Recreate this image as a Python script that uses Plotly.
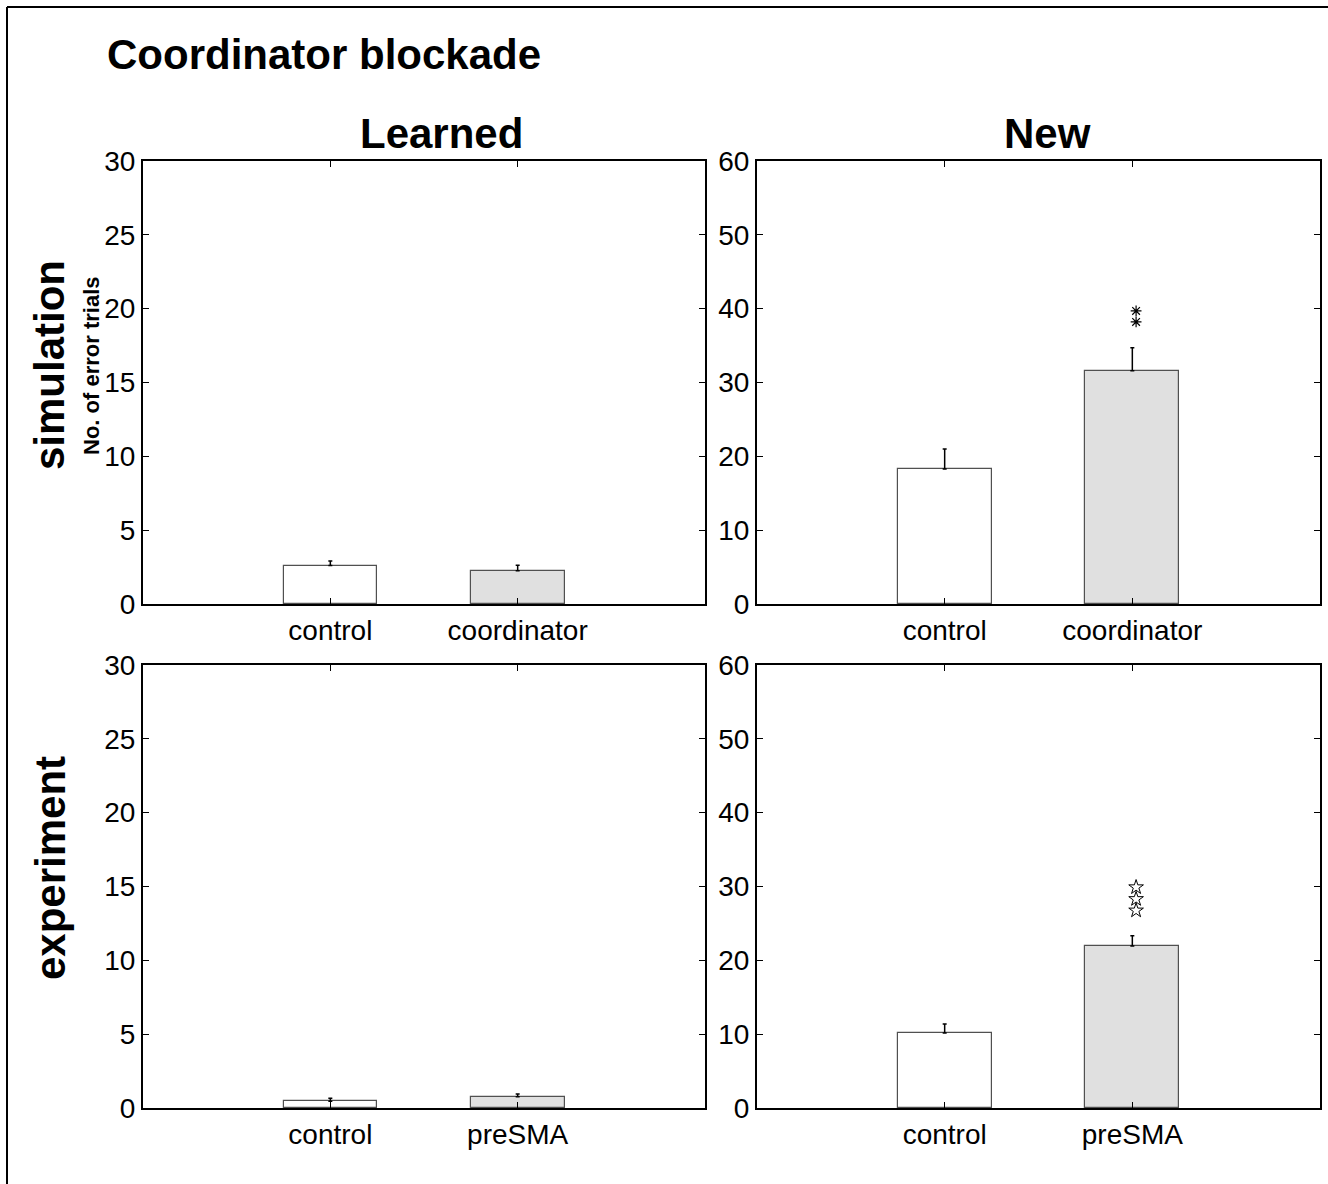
import plotly.graph_objects as go

# ---- data ----
sim_learned_labels = ["control", "coordinator"]
sim_learned_vals = [2.6, 2.25]
sim_learned_err = [0.32, 0.37]

sim_new_labels = ["control", "coordinator"]
sim_new_vals = [18.3, 31.6]
sim_new_err = [2.7, 3.1]

exp_learned_labels = ["control", "preSMA"]
exp_learned_vals = [0.45, 0.77]
exp_learned_err = [0.21, 0.18]

exp_new_labels = ["control", "preSMA"]
exp_new_vals = [10.16, 21.94]
exp_new_err = [1.22, 1.4]

sim_sig_y = [39.7, 38.2]            # asterisks (simulation, New)
exp_sig_y = [29.9, 28.3, 26.75]     # open stars (experiment, New)

learned_ticks = [0, 5, 10, 15, 20, 25, 30]
new_ticks = [0, 10, 20, 30, 40, 50, 60]

bar_colors = ["#ffffff", "#e0e0e0"]
FONT = "Liberation Sans, Arial, Helvetica, sans-serif"

W, H = 1328, 1184
def px_x(p):
    return p / W
def px_y(p):
    return 1 - p / H

fig = go.Figure()

panels = [
    ("x", "y", sim_learned_labels, sim_learned_vals, sim_learned_err, learned_ticks),
    ("x2", "y2", sim_new_labels, sim_new_vals, sim_new_err, new_ticks),
    ("x3", "y3", exp_learned_labels, exp_learned_vals, exp_learned_err, learned_ticks),
    ("x4", "y4", exp_new_labels, exp_new_vals, exp_new_err, new_ticks),
]

for xa, ya, labels, vals, errs, ticks in panels:
    fig.add_trace(go.Bar(
        x=[1, 2], y=vals, width=0.5,
        marker=dict(color=bar_colors, line=dict(color="#505050", width=1.2)),
        error_y=dict(type="data", symmetric=False, array=errs, arrayminus=[0, 0],
                     color="black", thickness=1.5, width=2),
        xaxis=xa, yaxis=ya, showlegend=False, hoverinfo="skip",
    ))

fig.add_trace(go.Scatter(
    x=[2.02] * len(sim_sig_y), y=sim_sig_y, mode="markers",
    marker=dict(symbol="asterisk-open", size=9, color="black", line=dict(color="black", width=1.2)),
    xaxis="x2", yaxis="y2", showlegend=False, hoverinfo="skip"))
fig.add_trace(go.Scatter(
    x=[2.02] * len(exp_sig_y), y=exp_sig_y, mode="markers",
    marker=dict(symbol="star-open", size=11, color="black", line=dict(color="black", width=1)),
    xaxis="x4", yaxis="y4", showlegend=False, hoverinfo="skip"))

xdom_l = [px_x(143), px_x(705)]
xdom_r = [px_x(757), px_x(1320)]
ydom_t = [px_y(604), px_y(161)]
ydom_b = [px_y(1108), px_y(665)]

def xaxis_cfg(dom, anchor, labels):
    return dict(domain=dom, anchor=anchor, range=[0, 3], tickvals=[1, 2], ticktext=labels,
                showline=True, linecolor="black", linewidth=2, mirror="ticks",
                ticks="inside", ticklen=6, tickwidth=1, tickcolor="black",
                showgrid=False, zeroline=False, fixedrange=True, automargin=False,
                tickfont=dict(family=FONT, size=28, color="black"))

def yaxis_cfg(dom, anchor, ticks):
    return dict(domain=dom, anchor=anchor, range=[0, ticks[-1]], tickvals=ticks,
                showline=True, linecolor="black", linewidth=2, mirror="ticks",
                ticks="inside", ticklen=6, tickwidth=1, tickcolor="black",
                showgrid=False, zeroline=False, fixedrange=True, automargin=False,
                tickfont=dict(family=FONT, size=28, color="black"))

fig.update_layout(
    template="none",
    width=W, height=H,
    margin=dict(l=0, r=0, t=0, b=0, pad=0),
    paper_bgcolor="white", plot_bgcolor="white",
    bargap=0,
    xaxis=xaxis_cfg(xdom_l, "y", sim_learned_labels),
    yaxis=yaxis_cfg(ydom_t, "x", learned_ticks),
    xaxis2=xaxis_cfg(xdom_r, "y2", sim_new_labels),
    yaxis2=yaxis_cfg(ydom_t, "x2", new_ticks),
    xaxis3=xaxis_cfg(xdom_l, "y3", exp_learned_labels),
    yaxis3=yaxis_cfg(ydom_b, "x3", learned_ticks),
    xaxis4=xaxis_cfg(xdom_r, "y4", exp_new_labels),
    yaxis4=yaxis_cfg(ydom_b, "x4", new_ticks),
)

def ann(text, x, y, size, bold=True, angle=0, xanchor="center", yanchor="middle"):
    fig.add_annotation(text=f"<b>{text}</b>" if bold else text, x=x, y=y,
                       xref="paper", yref="paper", showarrow=False,
                       textangle=angle, xanchor=xanchor, yanchor=yanchor,
                       font=dict(family=FONT, size=size, color="black"))

ann("Coordinator blockade", px_x(105), px_y(54), 42, xanchor="left")
ann("Learned", px_x(441), px_y(133), 42)
ann("New", px_x(1047), px_y(133), 42)
ann("simulation", px_x(50), px_y(365), 42, angle=-90)
ann("No. of error trials", px_x(91), px_y(366), 22, angle=-90)
ann("experiment", px_x(50), px_y(868), 42, angle=-90)

# outer frame (only top and left edges visible)
fig.add_shape(type="line", xref="paper", yref="paper",
              x0=px_x(7), y0=px_y(7), x1=1.01, y1=px_y(7), line=dict(color="black", width=2))
fig.add_shape(type="line", xref="paper", yref="paper",
              x0=px_x(7), y0=px_y(7), x1=px_x(7), y1=-0.01, line=dict(color="black", width=2))

fig.write_html("out.html")
